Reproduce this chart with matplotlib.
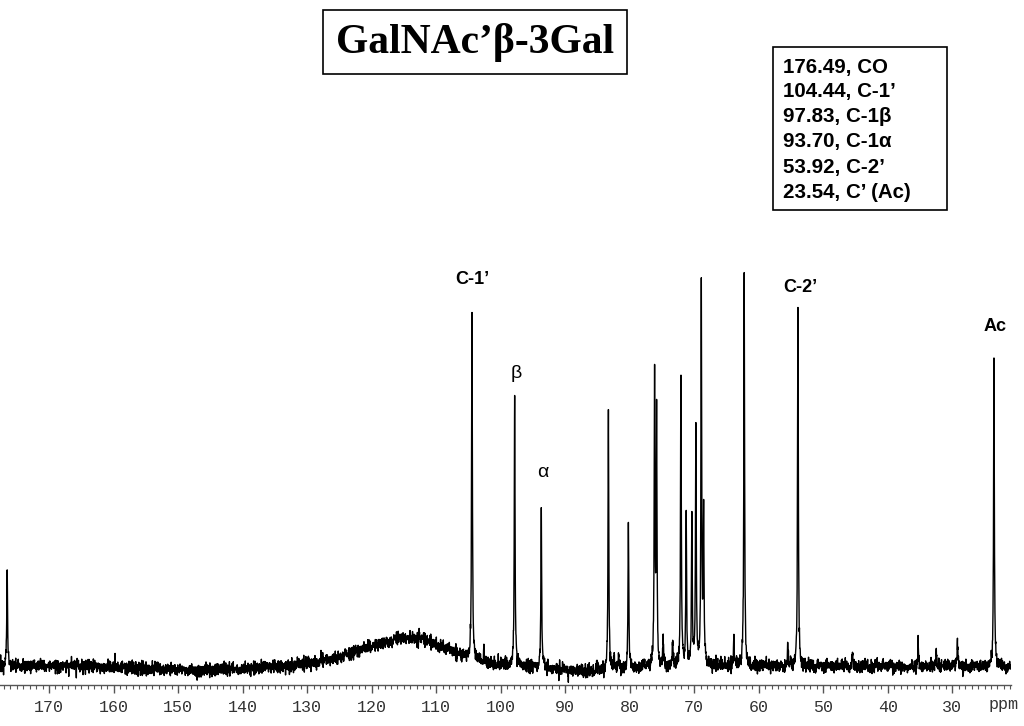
import numpy as np
import matplotlib
matplotlib.use("Agg")
import matplotlib.pyplot as plt
from matplotlib.patches import Rectangle
from matplotlib.ticker import MultipleLocator

# 13C NMR peak list (ppm, relative intensity, tallest = 100)
PEAK_PPM = [176.49, 104.44, 102.60, 97.83, 93.70, 85.10, 83.30, 82.40, 81.70,
            80.20, 76.14, 75.83, 74.80, 73.35, 72.06, 71.24, 70.36, 69.74,
            68.90, 68.54, 63.85, 62.25, 55.50, 53.92, 45.45, 35.30, 32.50,
            29.20, 23.54]
PEAK_INT = [25.2, 89.7, 4.0, 69.0, 41.0, 3.5, 66.0, 4.0, 3.5,
            38.0, 73.5, 64.0, 6.2, 5.9, 74.9, 39.2, 38.5, 60.8,
            96.6, 39.0, 8.0, 100.0, 5.4, 92.1, 3.3, 6.2, 4.4,
            6.9, 78.0]

# broad background hump and baseline roll
HUMP_CENTER = 113.5
HUMP_HEIGHT = 7.0
HUMP_SIGMA_HIGH = 8.0   # high-ppm side
HUMP_SIGMA_LOW = 5.5    # low-ppm side
DIP_CENTER = [146.0, 86.0]
DIP_DEPTH = [-1.0, -1.4]
DIP_SIGMA = [8.0, 5.0]

ASSIGNMENTS = ["176.49, CO", "104.44, C-1\u2019", "97.83, C-1\u03b2",
               "93.70, C-1\u03b1", "53.92, C-2\u2019", "23.54, C\u2019 (Ac)"]
LABEL_TEXT = ["C-1\u2019", "\u03b2", "\u03b1", "C-2\u2019", "Ac"]
LABEL_PPM = [104.35, 97.6, 93.5, 53.6, 23.4]
LABEL_Y = [99.0, 75.0, 49.5, 97.0, 87.0]

TITLE = "GalNAc\u2019\u03b2-3Gal"
HWHM = 0.07
XMIN, XMAX = 20.9, 177.6

# sampling grid (about 5 points per pixel) plus the exact peak centres
ppm = np.unique(np.concatenate([np.arange(XMIN, XMAX, 0.03), PEAK_PPM]))

spec = np.zeros_like(ppm)
for p, h in zip(PEAK_PPM, PEAK_INT):
    spec += h / (1.0 + ((ppm - p) / HWHM) ** 2)
sig = np.where(ppm > HUMP_CENTER, HUMP_SIGMA_HIGH, HUMP_SIGMA_LOW)
spec += HUMP_HEIGHT * np.exp(-0.5 * ((ppm - HUMP_CENTER) / sig) ** 2)
for c, d, s in zip(DIP_CENTER, DIP_DEPTH, DIP_SIGMA):
    spec += d * np.exp(-0.5 * ((ppm - c) / s) ** 2)

# baseline noise texture
rng = np.random.default_rng(7)
spec += rng.normal(0.0, 0.85, ppm.size)

fig = plt.figure(figsize=(10.24, 7.26), dpi=100)
ax = fig.add_axes([0.0, 41 / 726, 1011 / 1024, 685 / 726])
ax.plot(ppm, spec, color="black", linewidth=1.0)
ax.set_xlim(XMAX, XMIN)
ax.set_ylim(-4.87, 170.8)

for side in ("top", "left", "right"):
    ax.spines[side].set_visible(False)
ax.spines["bottom"].set_color("#555555")
ax.spines["bottom"].set_linewidth(1.0)
ax.set_yticks([])
ax.xaxis.set_minor_locator(MultipleLocator(1))
ticks = list(range(30, 180, 10))
ax.set_xticks(ticks)
ax.set_xticklabels([str(t) for t in ticks], family="Liberation Mono",
                   color="#333333")
ax.tick_params(axis="x", which="major", direction="out", length=6, width=1.0,
               color="#555555", pad=5, labelsize=12)
ax.tick_params(axis="x", which="minor", direction="out", length=3, width=0.8,
               color="#555555")
fig.text(989 / 1024, 1 - 704 / 726, "ppm", family="Liberation Mono", fontsize=12,
         color="#333333", ha="left", va="center")

# peak labels
for t, x, y in zip(LABEL_TEXT, LABEL_PPM, LABEL_Y):
    greek = t in ("\u03b2", "\u03b1")
    ax.text(x, y, t, ha="center", va="center", fontsize=14 if greek else 13,
            family="Liberation Sans", fontweight="normal" if greek else "bold")

# title box
fig.text(475 / 1024, 1 - 42 / 726, TITLE, family="Liberation Serif",
         fontweight="bold", fontsize=30, ha="center", va="center",
         bbox=dict(boxstyle="square,pad=0.3", facecolor="white",
                   edgecolor="black", linewidth=1.2))

# assignment box
fig.patches.append(Rectangle((773 / 1024, 1 - 210 / 726), 174 / 1024, 163 / 726,
                             transform=fig.transFigure, facecolor="white",
                             edgecolor="black", linewidth=1.2))
for i, line in enumerate(ASSIGNMENTS):
    fig.text(783 / 1024, 1 - (67 + 25 * i) / 726, line,
             family="Liberation Sans", fontweight="bold", fontsize=14.8,
             ha="left", va="center")

fig.savefig("out.png", dpi=100, facecolor="white")
